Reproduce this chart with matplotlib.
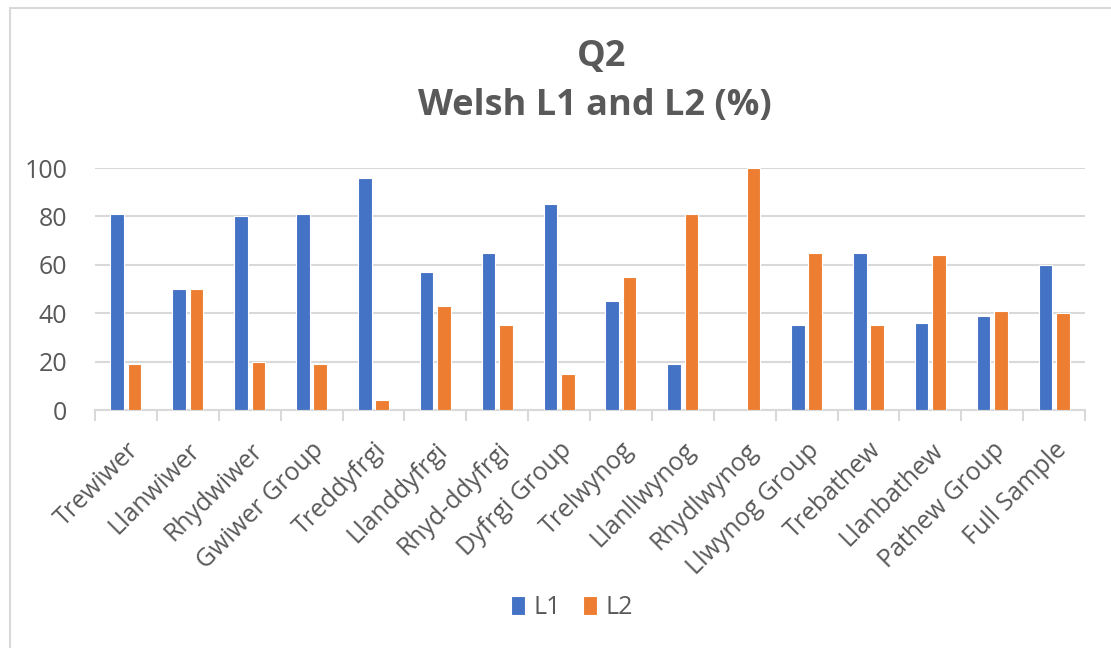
import matplotlib.pyplot as plt
import matplotlib.patches as mpatches
import numpy as np

# data
areas = ["Trewiwer", "Llanwiwer", "Rhydwiwer", "Gwiwer Group", "Treddyfrgi",
         "Llanddyfrgi", "Rhyd-ddyfrgi", "Dyfrgi Group", "Trelwynog", "Llanllwynog",
         "Rhydlwynog", "Llwynog Group", "Trebathew", "Llanbathew", "Pathew Group",
         "Full Sample"]
l1 = [81, 50, 80, 81, 96, 57, 65, 85, 45, 19, 0, 35, 65, 36, 39, 60]
l2 = [19, 50, 20, 19, 4, 43, 35, 15, 55, 81, 100, 65, 35, 64, 41, 40]
y_ticks = [0, 20, 40, 60, 80, 100]

BLUE = "#4472C4"
ORANGE = "#ED7D31"
GREY_TXT = "#595959"
GRID = "#D9D9D9"

plt.rcParams['font.family'] = ['Open Sans', 'DejaVu Sans']

W, H = 1111, 648
fig = plt.figure(figsize=(W / 100, H / 100), dpi=100)
fig.patch.set_facecolor("white")

# chart-area border (only left and top edges visible in the crop)
fig.patches.append(mpatches.Rectangle((10 / W, -0.1), 1.2, 1 - 8 / H + 0.1,
                                      transform=fig.transFigure, fill=False,
                                      edgecolor=GRID, linewidth=1.5))

ax = fig.add_axes([95 / W, 1 - 410 / H, (1085 - 95) / W, (410 - 168) / H])

x = np.arange(len(areas))
w = 0.22
ax.bar(x - 0.14, l1, width=w, color=BLUE, edgecolor="white", linewidth=0.8, label="L1", zorder=3)
ax.bar(x + 0.14, l2, width=w, color=ORANGE, edgecolor="white", linewidth=0.8, label="L2", zorder=3)

ax.set_xlim(-0.5, len(areas) - 0.5)
ax.set_ylim(0, 100)
ax.set_yticks(y_ticks)
ax.yaxis.grid(True, color=GRID, linewidth=1.5, zorder=0)
ax.set_axisbelow(True)

for s in ["top", "right", "left"]:
    ax.spines[s].set_visible(False)
ax.spines["bottom"].set_color(GRID)
ax.spines["bottom"].set_linewidth(1.5)

ax.tick_params(axis="y", length=0, pad=20, labelsize=18, labelcolor=GREY_TXT)
ax.set_xticks(x)
ax.set_xticklabels(areas, rotation=45, ha="right", rotation_mode="anchor",
                   fontsize=18, color=GREY_TXT)
ax.tick_params(axis="x", which="major", length=0, pad=20)
ax.set_xticks(np.arange(-0.5, len(areas), 1.0), minor=True)
ax.tick_params(axis="x", which="minor", length=8, width=1.5, color=GRID)

fig.text(602 / W, 1 - 57 / H, "Q2", ha="center", va="center",
         fontsize=26, fontweight="bold", color=GREY_TXT)
fig.text(595 / W, 1 - 106 / H, "Welsh L1 and L2 (%)", ha="center", va="center",
         fontsize=26, fontweight="bold", color=GREY_TXT)

fig.legend(loc="center", bbox_to_anchor=(572 / W, 1 - 608 / H), ncol=2, frameon=False,
           fontsize=18, handlelength=0.55, handleheight=0.8, handletextpad=0.35,
           columnspacing=0.9, labelcolor=GREY_TXT)

fig.savefig("out.png", dpi=100, facecolor="white")
